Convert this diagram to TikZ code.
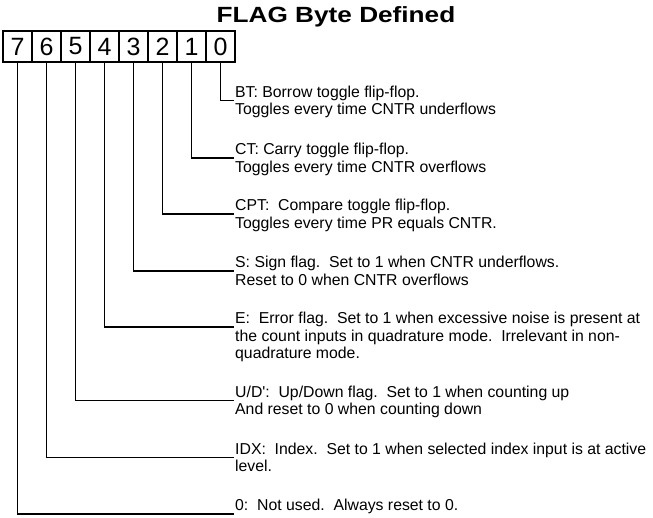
\documentclass[tikz,border=0pt]{standalone}
\usepackage{fontspec}
\setmainfont{Liberation Sans}
\usetikzlibrary{positioning}
\tikzset{
  bitbox/.style={draw, line width=1.8pt, minimum width=29pt, minimum height=31pt,
    inner sep=0pt, font=\fontsize{25}{25}\selectfont},
  desc/.style={anchor=base west, align=left, inner sep=0pt,
    font=\fontsize{15.8}{17.5}\selectfont},
  lead/.style={line width=1.8pt},
}
\begin{document}
\begin{tikzpicture}[x=1pt, y=-1pt]
      \useasboundingbox (0,0) rectangle (653,517);
      \node (title) [anchor=base] at (336,22.3)
        {\scalebox{1.19}[1]{\fontsize{22}{22}\selectfont\bfseries FLAG Byte Defined}};
      \draw
        (17.5,46.5) node[bitbox] (b7){7}
        (46.5,46.5) node[bitbox] (b6){6}
        (75.5,46.5) node[bitbox] (b5){5}
        (104.5,46.5) node[bitbox] (b4){4}
        (133.5,46.5) node[bitbox] (b3){3}
        (162.5,46.5) node[bitbox] (b2){2}
        (191.5,46.5) node[bitbox] (b1){1}
        (220.5,46.5) node[bitbox] (b0){0};
      \coordinate (e0) at (234,100.5);
      \coordinate (e1) at (234,158);
      \coordinate (e2) at (234,214);
      \coordinate (e3) at (234,271);
      \coordinate (e4) at (234,327);
      \coordinate (e5) at (234,400.5);
      \coordinate (e6) at (234,457.5);
      \coordinate (e7) at (234,514);
      % base anchor sits on the last line of each text
      \node[desc] (d0) at (235,114.7)
        {BT: Borrow toggle flip-flop.\\Toggles every time CNTR underflows};
      \node[desc] (d1) at (235,172.2)
        {CT: Carry toggle flip-flop.\\Toggles every time CNTR overflows};
      \node[desc] (d2) at (235,228.2)
        {CPT:\ \ Compare toggle flip-flop.\\Toggles every time PR equals CNTR.};
      \node[desc] (d3) at (235,285.2)
        {S: Sign flag.\ \ Set to 1 when CNTR underflows.\\Reset to 0 when CNTR overflows};
      \node[desc] (d4) at (235,358.7)
        {E:\ \ Error flag.\ \ Set to 1 when excessive noise is present at\\the count inputs in quadrature mode.\ \ Irrelevant in non-\\quadrature mode.};
      \node[desc] (d5) at (235,414.7)
        {U/D\textquotesingle:\ \ Up/Down flag.\ \ Set to 1 when counting up\\And reset to 0 when counting down};
      \node[desc] (d6) at (235,471.7)
        {IDX:\ \ Index.\ \ Set to 1 when selected index input is at active\\level.};
      \node[desc] (d7) at (235,510.7)
        {0:\ \ Not used.\ \ Always reset to 0.};
      \begin{scope}[lead]
        \draw (b0.south) |- (e0);
        \draw (b1.south) |- (e1);
        \draw (b2.south) |- (e2);
        \draw (b3.south) |- (e3);
        \draw (b4.south) |- (e4);
        \draw (b5.south) |- (e5);
        \draw (b6.south) |- (e6);
        \draw (b7.south) |- (e7);
      \end{scope}
    \end{tikzpicture}
\end{document}
